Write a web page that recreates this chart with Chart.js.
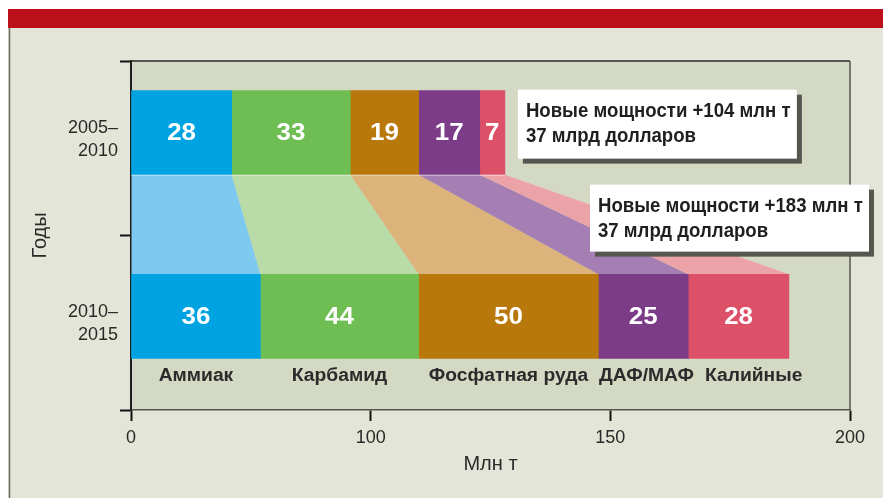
<!DOCTYPE html>
<html>
<head>
<meta charset="utf-8">
<script src="https://cdn.jsdelivr.net/npm/chart.js@4.4.1/dist/chart.umd.min.js"></script>
<style>
  html, body { margin: 0; padding: 0; background: #fff; }
  #wrap { width: 883px; height: 498px; }
</style>
</head>
<body>
<div id="wrap"><canvas id="chart"></canvas></div>
<script>
// data
const periods = [["2005–", "2010"], ["2010–", "2015"]];
const products = ["Аммиак", "Карбамид", "Фосфатная руда", "ДАФ/МАФ", "Калийные"];
const capacity2005 = [28, 33, 19, 17, 7];
const capacity2010 = [36, 44, 50, 25, 28];
const xTickLabels = ["0", "100", "150", "200"];
const costs = ["37 млрд долларов", "37 млрд долларов"];

const barColors = ["#00a3e1", "#6ebe53", "#b9780b", "#7c3c88", "#dc5068"];
const linkColors = ["#7dc9ef", "#b8dba7", "#dbb37b", "#a57fb3", "#eca3a8"];
const FONT = "'Liberation Sans', Arial, sans-serif";

const sum = a => a.reduce((s, v) => s + v, 0);

const datasets = products.map((p, i) => ({
  label: p,
  data: [{ y: 0, x: capacity2005[i] }, { y: 1, x: capacity2010[i] }],
  backgroundColor: barColors[i],
  borderWidth: 0,
  barThickness: 84,
  stack: "s"
}));

// text squeezed or stretched horizontally (the original uses a condensed face)
function stretchText(ctx, t, x, y, k) {
  ctx.save();
  ctx.translate(x, y);
  ctx.scale(k, 1);
  ctx.fillText(t, 0, 0);
  ctx.restore();
}

function callout(ctx, x, y, w, h, lines) {
  ctx.fillStyle = "#55564f";
  ctx.fillRect(x + 5, y + 5, w, h);
  ctx.fillStyle = "#fff";
  ctx.fillRect(x, y, w, h);
  ctx.fillStyle = "#1f1f1f";
  ctx.font = "bold 20px " + FONT;
  ctx.textAlign = "left";
  ctx.textBaseline = "middle";
  lines.forEach((t, k) => stretchText(ctx, t, x + 8, y + 22 + k * 25, 0.93));
}

const decor = {
  id: "decor",
  beforeDraw(chart) {
    const { ctx, chartArea: a, width, height } = chart;
    ctx.save();
    ctx.fillStyle = "#fff";
    ctx.fillRect(0, 0, width, height);
    ctx.fillStyle = "#e2e5d7";
    ctx.fillRect(8, 28, width - 8, height - 28);
    ctx.fillStyle = "#bb1019";
    ctx.fillRect(8, 9, width - 8, 19);
    ctx.strokeStyle = "#6a6b66";
    ctx.lineWidth = 1.5;
    ctx.beginPath(); ctx.moveTo(9.5, 28); ctx.lineTo(9.5, height); ctx.stroke();
    ctx.fillStyle = "#d4d9c4";
    ctx.fillRect(a.left, a.top, a.right - a.left, a.bottom - a.top);
    ctx.restore();
  },
  beforeDatasetsDraw(chart) {
    const { ctx } = chart;
    ctx.save();
    products.forEach((p, i) => {
      const [t, b] = chart.getDatasetMeta(i).data;
      const y1 = t.y + t.height / 2, y2 = b.y - b.height / 2;
      ctx.fillStyle = linkColors[i];
      ctx.beginPath();
      ctx.moveTo(t.base, y1); ctx.lineTo(t.x, y1);
      ctx.lineTo(b.x, y2); ctx.lineTo(b.base, y2);
      ctx.closePath();
      ctx.fill();
    });
    ctx.restore();
  },
  afterDatasetsDraw(chart) {
    const { ctx, chartArea: a } = chart;
    ctx.save();
    // plot frame top/right
    ctx.strokeStyle = "#2a2a2a"; ctx.lineWidth = 1.5;
    ctx.beginPath(); ctx.moveTo(a.left, a.top); ctx.lineTo(a.right, a.top); ctx.stroke();
    ctx.strokeStyle = "#55564f";
    ctx.beginPath(); ctx.moveTo(a.right, a.top); ctx.lineTo(a.right, a.bottom); ctx.stroke();

    // thin light line under first bar
    const first = chart.getDatasetMeta(0).data[0];
    const last = chart.getDatasetMeta(products.length - 1).data[0];
    ctx.strokeStyle = "rgba(255,255,255,0.6)"; ctx.lineWidth = 1;
    ctx.beginPath();
    ctx.moveTo(first.base, first.y + first.height / 2 + 0.5);
    ctx.lineTo(last.x, first.y + first.height / 2 + 0.5);
    ctx.stroke();

    // values in bars
    ctx.fillStyle = "#fff";
    ctx.font = "bold 24px " + FONT;
    ctx.textAlign = "center";
    ctx.textBaseline = "middle";
    products.forEach((p, i) => {
      chart.getDatasetMeta(i).data.forEach((el, j) => {
        const v = j === 0 ? capacity2005[i] : capacity2010[i];
        stretchText(ctx, String(v), (el.x + el.base) / 2, el.y + 1, 1.08);
      });
    });

    // product names under the lower bar
    ctx.fillStyle = "#2b2b2b";
    ctx.font = "bold 18px " + FONT;
    ctx.textAlign = "left";
    const k = 1.07;
    let prevEnd = -Infinity;
    products.forEach((p, i) => {
      const el = chart.getDatasetMeta(i).data[1];
      const w = ctx.measureText(p).width * k;
      let x = Math.max((el.x + el.base) / 2 - w / 2, el.base);
      x = Math.max(x, prevEnd + 11);
      stretchText(ctx, p, x, el.y + el.height / 2 + 18, k);
      prevEnd = x + w;
    });

    // callouts
    const top1 = first.y - first.height / 2;
    callout(ctx, last.x + 13, top1 - 1, 279, 69,
      ["Новые мощности +" + sum(capacity2005) + " млн т", costs[0]]);
    callout(ctx, a.right - 260, first.y + first.height / 2 + 10, 279, 67,
      ["Новые мощности +" + sum(capacity2010) + " млн т", costs[1]]);
    ctx.restore();
  }
};

Chart.defaults.font.family = FONT;

new Chart(document.getElementById("chart"), {
  type: "bar",
  data: { datasets },
  plugins: [decor],
  options: {
    indexAxis: "y",
    responsive: true,
    maintainAspectRatio: false,
    animation: false,
    layout: { padding: { top: 61, right: 33, left: 0, bottom: 0 } },
    plugins: { legend: { display: false }, tooltip: { enabled: false } },
    scales: {
      x: {
        type: "linear",
        min: 0,
        max: 200,
        stacked: true,
        afterBuildTicks(s) {
          s.ticks = xTickLabels.map((t, i) => ({ value: s.min + i * (s.max - s.min) / (xTickLabels.length - 1) }));
        },
        afterFit(s) { s.height = 88; },
        grid: { drawOnChartArea: false, tickLength: 11, tickWidth: 2, tickColor: "#111" },
        border: { color: "#55564f", width: 1.5 },
        ticks: {
          padding: 6, color: "#2a2a2a", font: { size: 18 }, autoSkip: false, maxRotation: 0,
          callback: (v, i) => xTickLabels[i]
        },
        title: { display: true, text: "Млн т", color: "#2a2a2a", font: { size: 20 }, padding: { bottom: 22 } }
      },
      y: {
        type: "linear",
        reverse: true,
        offset: false,
        min: -0.39,
        max: 1.51,
        afterBuildTicks(s) {
          s.ticks = [s.min, 0, (s.min + s.max) / 2, 1, s.max].map(v => ({ value: v }));
        },
        afterFit(s) { s.width = 131; },
        grid: {
          offset: false,
          drawOnChartArea: false, tickLength: 11, tickWidth: 2,
          tickColor: c => (c.tick && Number.isInteger(c.tick.value)) ? "rgba(0,0,0,0)" : "#111"
        },
        border: { color: "#1e1e1e", width: 2 },
        ticks: {
          padding: 2, color: "#2a2a2a", font: { size: 18, lineHeight: 1.3 }, autoSkip: false, labelOffset: 7,
          callback: v => Number.isInteger(v) ? periods[v] : ""
        },
        title: { display: true, text: "Годы", color: "#2a2a2a", font: { size: 20 }, padding: { top: 28 } }
      }
    }
  }
});
</script>
</body>
</html>
